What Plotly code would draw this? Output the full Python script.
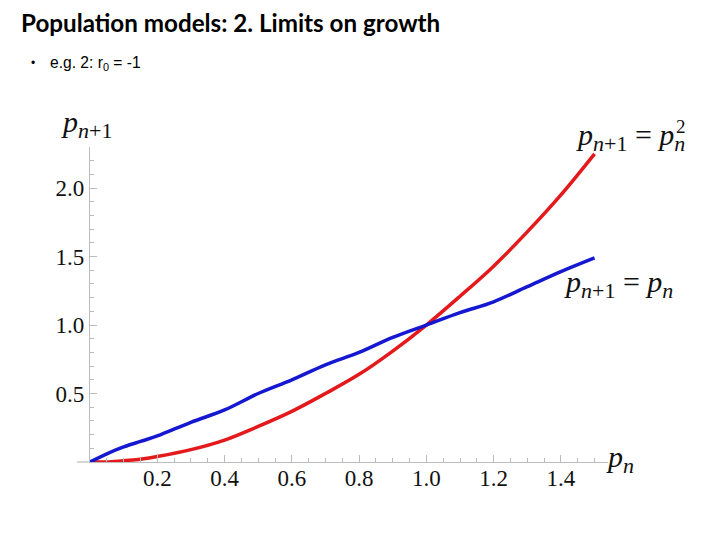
import plotly.graph_objects as go

# ---- data ----
p_n = [0.0, 0.05, 0.1, 0.15, 0.2, 0.3, 0.4, 0.5, 0.6, 0.7, 0.8, 0.9,
       1.0, 1.1, 1.2, 1.3, 1.4, 1.5]
p_next_square = [0.0, 0.0, 0.01, 0.02, 0.04, 0.09, 0.16, 0.26, 0.37, 0.50,
                 0.64, 0.81, 1.0, 1.21, 1.43, 1.68, 1.95, 2.25]
p_next_linear = [0.0, 0.06, 0.11, 0.15, 0.19, 0.29, 0.38, 0.50, 0.60, 0.71,
                 0.80, 0.91, 1.0, 1.09, 1.17, 1.28, 1.39, 1.49]
x_tick_vals = [0.2, 0.4, 0.6, 0.8, 1.0, 1.2, 1.4]
y_tick_vals = [0.5, 1.0, 1.5, 2.0]

W, H = 720, 540
L, R, T, B = 90, 112, 147, 78
PW, PH = W - L - R, H - T - B


def px(xp):
    return (xp - L) / PW


def py(yp):
    return (H - B - yp) / PH


fig = go.Figure()
fig.add_trace(go.Scatter(x=p_n, y=p_next_square, mode="lines",
                         line=dict(color="#e3191c", width=3.5, shape="spline"),
                         hoverinfo="skip", showlegend=False))
fig.add_trace(go.Scatter(x=p_n, y=p_next_linear, mode="lines",
                         line=dict(color="#1518d0", width=3.5, shape="spline"),
                         hoverinfo="skip", showlegend=False))

axis_gray = "#bcbcbc"
tick_font = dict(family="Liberation Serif, Times New Roman, serif", size=23, color="#111")

fig.update_xaxes(range=[0, 1.54], showgrid=False, zeroline=False,
                 showline=True, linecolor=axis_gray, linewidth=1.2,
                 tickvals=x_tick_vals, ticktext=[f"{v:.1f}" for v in x_tick_vals],
                 ticks="inside", ticklen=7, tickcolor=axis_gray, tickwidth=1,
                 tickfont=tick_font, ticklabelstandoff=-5,
                 minor=dict(dtick=0.05, tick0=0, ticks="inside", ticklen=4,
                            tickcolor=axis_gray, tickwidth=1))
fig.update_yaxes(range=[0, 2.3], showgrid=False, zeroline=False,
                 showline=True, linecolor=axis_gray, linewidth=1.2,
                 tickvals=y_tick_vals, ticktext=[f"{v:.1f}" for v in y_tick_vals],
                 ticks="inside", ticklen=7, tickcolor=axis_gray, tickwidth=1,
                 tickfont=tick_font,
                 minor=dict(dtick=0.1, tick0=0, ticks="inside", ticklen=4,
                            tickcolor=axis_gray, tickwidth=1))

# x-axis line extension to the left of the origin
fig.add_shape(type="line", xref="paper", yref="paper",
              x0=px(77), x1=0, y0=0, y1=0,
              line=dict(color=axis_gray, width=1.2))

math_font = dict(family="Liberation Serif, Times New Roman, serif", size=30, color="#111")


def sub(t):
    return f"<sub><span style='font-size:22px'>{t}</span></sub>"


P = "<i>p</i>"
PN1 = P + sub("<i>n</i>+1")
PN = P + sub("<i>n</i>")

ann = []
ann.append(dict(text="<b>Population models: 2. Limits on growth</b>",
                x=px(19), y=py(22), xanchor="left", yanchor="middle",
                font=dict(family="Lato, Open Sans, sans-serif", size=24.2, color="#000")))
ann.append(dict(text="•", x=px(29), y=py(63), xanchor="left", yanchor="middle",
                font=dict(family="Liberation Sans, Arial, sans-serif", size=12, color="#000")))
ann.append(dict(text="e.g. 2: r<sub>0</sub> = -1", x=px(48), y=py(63),
                xanchor="left", yanchor="middle",
                font=dict(family="Liberation Sans, Arial, sans-serif", size=15.6, color="#000")))
ann.append(dict(text=PN1, x=px(59), y=py(124), xanchor="left", yanchor="middle", font=math_font))
ann.append(dict(text=PN1 + " = " + PN, x=px(574), y=py(137),
                xanchor="left", yanchor="middle", font=math_font))
ann.append(dict(text="2", x=px(674), y=py(126), xanchor="left", yanchor="middle",
                font=dict(family="Liberation Serif, Times New Roman, serif", size=19, color="#111")))
ann.append(dict(text=PN1 + " = " + PN, x=px(562), y=py(284),
                xanchor="left", yanchor="middle", font=math_font))
ann.append(dict(text=PN, x=px(604), y=py(459), xanchor="left", yanchor="middle", font=math_font))
for a in ann:
    a.update(xref="paper", yref="paper", showarrow=False)

fig.update_layout(width=W, height=H, autosize=False,
                  margin=dict(l=L, r=R, t=T, b=B),
                  plot_bgcolor="white", paper_bgcolor="white",
                  annotations=ann)

fig.write_html("out.html", config={"displayModeBar": False},
               post_script="document.body.style.margin='0';document.body.style.padding='0';")
